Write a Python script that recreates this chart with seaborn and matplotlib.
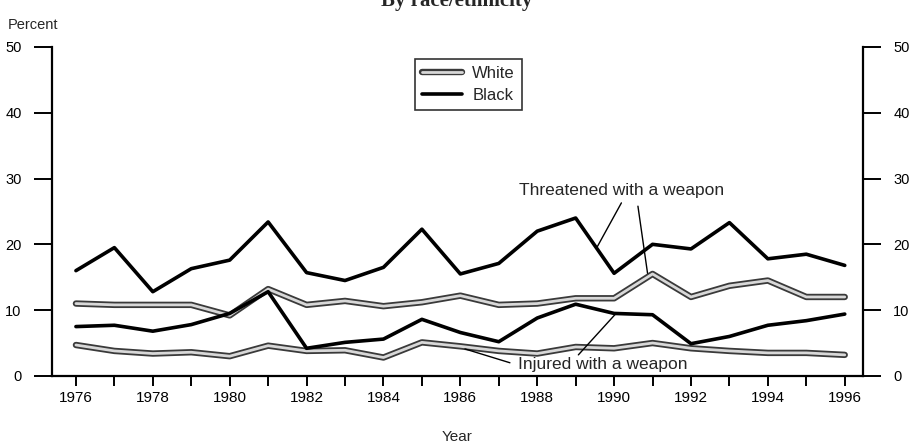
import matplotlib
matplotlib.use("Agg")
import matplotlib.pyplot as plt
import matplotlib.patheffects as pe
import numpy as np
import pandas as pd
import seaborn as sns

years = list(range(1976, 1997))

black_threatened = [16.0, 19.5, 12.8, 16.3, 17.6, 23.4, 15.7, 14.5, 16.5, 22.3, 15.5,
                    17.1, 22.0, 24.0, 15.6, 20.0, 19.3, 23.3, 17.8, 18.5, 16.8]
white_threatened = [11.0, 10.8, 10.8, 10.8, 9.2, 13.2, 10.8, 11.4, 10.6, 11.2, 12.2,
                    10.8, 11.0, 11.8, 11.8, 15.5, 12.0, 13.7, 14.5, 12.0, 12.0]
black_injured = [7.5, 7.7, 6.8, 7.8, 9.5, 12.8, 4.2, 5.1, 5.6, 8.6, 6.6,
                 5.2, 8.8, 10.9, 9.5, 9.3, 4.9, 6.0, 7.7, 8.4, 9.4]
white_injured = [4.7, 3.8, 3.4, 3.6, 3.0, 4.6, 3.8, 3.9, 2.8, 5.1, 4.5,
                 3.8, 3.4, 4.4, 4.2, 5.0, 4.2, 3.8, 3.5, 3.5, 3.2]

y_ticks = [0, 10, 20, 30, 40, 50]
x_major = list(range(1976, 1997, 2))

sns.set_theme(style="ticks")
plt.rcParams["font.family"] = ["Liberation Sans", "DejaVu Sans"]

fig = plt.figure(figsize=(9.14, 4.47), dpi=100)
ax = fig.add_axes([0.057, 0.159, 0.887, 0.736])

white_fx = [pe.Stroke(linewidth=4.6, foreground="#3a3a3a"), pe.Normal()]

sns.lineplot(x=years, y=white_threatened, ax=ax, color="#d8d8d8", lw=2.0,
             path_effects=white_fx, label="White")
sns.lineplot(x=years, y=black_threatened, ax=ax, color="black", lw=2.6,
             label="Black")
sns.lineplot(x=years, y=white_injured, ax=ax, color="#d8d8d8", lw=2.0,
             path_effects=white_fx)
sns.lineplot(x=years, y=black_injured, ax=ax, color="black", lw=2.6)

ax.set_xlim(1975.38, 1996.47)
ax.set_ylim(0, 50)
ax.set_xticks(years, minor=True)
ax.set_xticks(x_major)
ax.set_xticklabels([str(y) for y in x_major])
ax.set_yticks(y_ticks)

for s in ["left", "right", "bottom"]:
    ax.spines[s].set_linewidth(1.6)
    ax.spines[s].set_color("black")
ax.spines["top"].set_visible(False)

ax.tick_params(axis="y", which="both", direction="out", length=13, width=1.4,
               labelsize=10.5, pad=9, left=True, right=True,
               labelleft=True, labelright=True, colors="black")
ax.tick_params(axis="x", which="both", direction="out", length=7, width=1.4,
               labelsize=11, pad=4, colors="black")

ax.set_xlabel("Year", fontsize=11, labelpad=18)
ax.set_ylabel("")
ax.grid(False)

fig.text(0.009, 0.945, "Percent", fontsize=10.5, ha="left", va="center")
fig.text(0.5, 0.998, "By race/ethnicity", fontsize=15, fontweight="bold",
         family=["Liberation Serif", "DejaVu Serif"], ha="center", va="center")

leg = ax.legend(loc="upper left", bbox_to_anchor=(0.437, 0.99), frameon=True,
                fancybox=False, edgecolor="black", fontsize=12,
                handlelength=2.4, borderpad=0.45, labelspacing=0.4,
                handletextpad=0.6)
leg.get_frame().set_linewidth(1.2)

ax.text(1990.2, 28.2, "Threatened with a weapon", fontsize=12.5,
        ha="center", va="center")
ax.plot([1990.19, 1989.54], [26.3, 19.4], color="black", lw=1.0)
ax.plot([1990.62, 1990.87], [25.8, 15.6], color="black", lw=1.0)

ax.text(1989.7, 1.75, "Injured with a weapon", fontsize=12.5,
        ha="center", va="center")
ax.plot([1987.29, 1986.12], [2.0, 4.1], color="black", lw=1.0)
ax.plot([1989.07, 1990.02], [3.2, 9.3], color="black", lw=1.0)

fig.savefig("out.png", dpi=100)
